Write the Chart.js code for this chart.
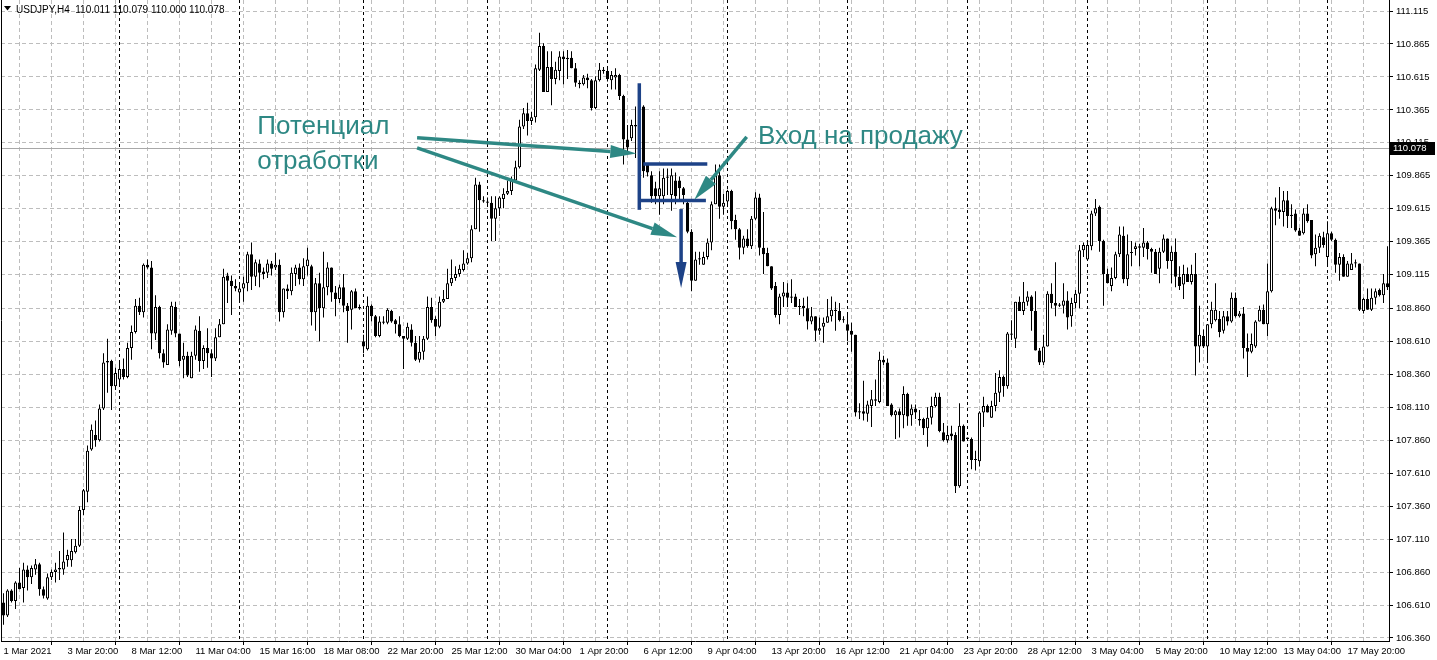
<!DOCTYPE html>
<html>
<head>
<meta charset="utf-8">
<title>USDJPY,H4</title>
<script src="https://cdn.jsdelivr.net/npm/chart.js@4.4.0/dist/chart.umd.min.js"></script>
<style>
  html, body { margin: 0; padding: 0; background: #fff; overflow: hidden; }
  canvas { display: block; }
</style>
</head>
<body>
<canvas id="chart" width="1437" height="660"></canvas>
<script>
// USDJPY H4 candles, 1 Mar 2021 .. 18 May 2021
const opens = [
  106.63,106.53,106.72,106.64,106.78,106.74,106.88,106.82,106.88,106.92,
  106.73,106.66,106.82,106.86,106.88,106.88,106.95,106.95,107.01,107.06,
  107.33,107.47,107.79,107.90,107.86,108.10,108.45,108.46,108.27,108.32,
  108.40,108.34,108.56,108.68,108.88,108.83,109.19,109.17,108.67,108.87,
  108.52,108.43,108.69,108.87,108.67,108.47,108.50,108.33,108.50,108.69,
  108.46,108.56,108.52,108.48,108.64,108.74,109.11,109.07,109.03,108.98,
  109.01,109.05,109.27,109.10,109.20,109.14,109.13,109.20,109.17,109.19,
  108.83,109.01,108.99,109.12,109.17,109.08,109.18,109.18,108.83,109.05,
  108.86,109.02,109.17,108.98,108.93,109.02,108.88,108.85,108.99,108.87,
  108.61,108.55,108.88,108.80,108.65,108.76,108.75,108.84,108.77,108.74,
  108.65,108.63,108.70,108.60,108.47,108.53,108.63,108.87,108.78,108.72,
  108.91,108.93,109.05,109.09,109.12,109.15,109.20,109.24,109.46,109.80,
  109.68,109.67,109.66,109.54,109.62,109.69,109.73,109.75,109.83,109.93,
  110.24,110.34,110.28,110.31,110.67,110.85,110.50,110.69,110.60,110.66,
  110.77,110.75,110.76,110.68,110.57,110.56,110.61,110.59,110.38,110.59,
  110.67,110.66,110.59,110.61,110.63,110.47,110.14,110.15,110.25,110.24,
  110.39,109.95,109.87,109.77,109.71,109.71,109.85,109.72,109.83,109.83,
  109.77,109.66,109.44,109.07,109.24,109.19,109.25,109.36,109.65,109.87,
  109.63,109.67,109.75,109.53,109.46,109.32,109.39,109.33,109.54,109.70,
  109.32,109.28,109.18,109.03,108.81,108.95,108.98,108.95,108.95,108.87,
  108.88,108.86,108.76,108.80,108.69,108.72,108.75,108.80,108.85,108.84,
  108.77,108.74,108.69,108.66,108.08,108.08,108.06,108.12,108.17,108.15,
  108.47,108.45,108.13,108.05,108.08,108.05,108.21,108.05,108.10,108.02,
  108.02,107.95,108.03,108.12,108.19,107.92,107.86,107.91,107.90,107.51,
  107.97,107.88,107.87,107.71,107.70,108.07,108.12,108.03,108.12,108.22,
  108.34,108.27,108.67,108.63,108.91,108.84,108.91,108.95,108.84,108.54,
  108.45,108.57,108.97,108.90,108.89,108.88,108.92,108.80,108.90,108.97,
  109.30,109.23,109.33,109.58,109.63,109.37,109.12,109.03,109.09,109.27,
  109.41,109.08,109.28,109.31,109.33,109.32,109.36,109.31,109.29,109.16,
  109.29,109.39,109.22,109.29,109.10,109.04,109.12,109.06,109.12,108.57,
  108.65,108.57,108.74,108.77,108.78,108.69,108.80,108.76,108.94,108.80,
  108.82,108.56,108.53,108.57,108.76,108.85,108.74,108.99,109.62,109.61,
  109.59,109.68,109.57,109.58,109.45,109.43,109.58,109.53,109.27,109.32,
  109.40,109.25,109.43,109.38,109.19,109.25,109.10,109.15,109.21,109.20,
  108.84,108.93,108.85,108.94,109.00,108.96,109.05
];
const highs = [
  106.70,106.73,106.73,106.79,106.89,106.93,106.91,106.91,106.96,106.93,
  106.75,106.85,106.88,106.93,107.02,107.16,107.03,107.11,107.11,107.36,
  107.49,107.82,107.98,108.01,108.13,108.52,108.63,108.47,108.41,108.45,
  108.48,108.60,108.73,108.93,108.94,109.20,109.23,109.22,108.96,108.88,
  108.55,108.74,108.91,108.91,108.67,108.60,108.53,108.53,108.73,108.80,
  108.58,108.71,108.55,108.71,108.78,109.16,109.13,109.11,109.08,109.04,
  109.10,109.29,109.36,109.23,109.23,109.17,109.23,109.22,109.28,109.23,
  109.01,109.04,109.17,109.19,109.20,109.24,109.32,109.19,109.09,109.13,
  109.29,109.21,109.17,109.03,109.04,109.12,108.90,109.00,109.01,108.89,
  108.66,108.95,108.89,108.81,108.80,108.80,108.86,108.85,108.78,108.80,
  108.65,108.75,108.74,108.65,108.65,108.65,108.95,108.94,108.80,108.95,
  109.00,109.16,109.23,109.18,109.19,109.30,109.28,109.49,109.85,109.82,
  109.71,109.70,109.71,109.71,109.71,109.77,109.83,109.86,109.98,110.29,
  110.38,110.42,110.35,110.71,110.95,110.87,110.81,110.81,110.73,110.81,
  110.81,110.82,110.81,110.72,110.59,110.63,110.64,110.60,110.62,110.72,
  110.69,110.68,110.66,110.68,110.64,110.48,110.25,110.29,110.39,110.40,
  110.40,109.96,109.90,109.82,109.90,109.92,109.92,109.92,109.89,109.86,
  109.78,109.68,109.46,109.29,109.29,109.29,109.39,109.67,109.95,109.95,
  109.73,109.76,109.76,109.57,109.47,109.41,109.46,109.56,109.74,109.73,
  109.59,109.32,109.18,109.06,108.97,109.06,109.05,109.08,108.97,108.93,
  108.94,108.95,108.87,108.80,108.79,108.79,108.93,108.95,108.91,108.90,
  108.80,108.82,108.75,108.66,108.14,108.31,108.16,108.24,108.32,108.53,
  108.50,108.48,108.14,108.09,108.10,108.27,108.22,108.13,108.13,108.09,
  108.03,108.11,108.19,108.22,108.22,107.99,107.97,107.97,107.92,108.14,
  107.98,107.88,107.88,107.78,108.08,108.19,108.13,108.16,108.37,108.39,
  108.35,108.68,108.77,108.91,108.95,109.06,108.99,108.96,108.99,108.56,
  108.66,108.99,109.05,109.21,108.90,109.05,108.99,108.94,109.00,109.34,
  109.36,109.36,109.60,109.69,109.64,109.38,109.16,109.17,109.29,109.48,
  109.48,109.42,109.37,109.36,109.35,109.47,109.37,109.32,109.31,109.32,
  109.42,109.39,109.33,109.39,109.18,109.19,109.17,109.19,109.28,108.88,
  108.70,108.74,108.91,109.05,108.84,108.84,108.84,108.98,108.98,108.84,
  108.87,108.67,108.67,108.77,108.88,108.89,109.20,109.63,109.70,109.78,
  109.75,109.75,109.65,109.61,109.47,109.62,109.65,109.53,109.42,109.43,
  109.44,109.52,109.44,109.39,109.28,109.27,109.22,109.28,109.23,109.20,
  108.94,109.01,109.01,109.01,109.01,109.12,109.33
];
const lows = [
  106.46,106.52,106.63,106.58,106.73,106.63,106.72,106.77,106.84,106.68,
  106.66,106.65,106.80,106.78,106.80,106.84,106.90,106.90,107.00,107.05,
  107.29,107.39,107.78,107.81,107.85,108.09,108.22,108.09,108.24,108.27,
  108.32,108.33,108.47,108.67,108.81,108.79,109.16,108.55,108.62,108.48,
  108.41,108.43,108.66,108.64,108.42,108.33,108.34,108.33,108.47,108.38,
  108.40,108.41,108.34,108.46,108.64,108.74,108.90,108.81,108.99,108.91,
  108.91,108.99,109.00,109.03,109.02,109.08,109.09,109.11,109.15,108.76,
  108.79,108.93,108.96,109.03,109.04,109.03,109.11,108.73,108.69,108.61,
  108.79,108.96,108.91,108.80,108.90,108.83,108.60,108.70,108.86,108.85,
  108.52,108.54,108.76,108.64,108.64,108.74,108.74,108.75,108.67,108.64,
  108.40,108.62,108.57,108.46,108.45,108.47,108.62,108.75,108.65,108.71,
  108.90,108.93,109.03,109.07,109.10,109.14,109.19,109.21,109.46,109.44,
  109.66,109.65,109.37,109.37,109.56,109.62,109.72,109.72,109.82,109.92,
  110.22,110.17,110.25,110.27,110.66,110.50,110.50,110.40,110.56,110.59,
  110.56,110.60,110.68,110.54,110.53,110.55,110.53,110.36,110.37,110.58,
  110.64,110.58,110.52,110.52,110.44,109.95,110.05,110.13,110.00,110.20,
  109.85,109.86,109.66,109.65,109.57,109.65,109.72,109.60,109.65,109.67,
  109.65,109.43,108.99,109.07,109.19,109.19,109.23,109.30,109.65,109.54,
  109.57,109.65,109.46,109.38,109.23,109.27,109.32,109.31,109.53,109.26,
  109.12,109.18,109.00,108.79,108.74,108.87,108.87,108.90,108.87,108.81,
  108.80,108.70,108.74,108.61,108.66,108.60,108.75,108.76,108.69,108.76,
  108.75,108.61,108.53,108.04,108.02,108.01,108.00,107.96,108.12,108.14,
  108.43,108.12,108.04,107.87,107.88,107.95,107.97,107.97,108.02,107.97,
  107.90,107.81,107.98,108.11,107.92,107.85,107.84,107.86,107.46,107.50,
  107.85,107.86,107.64,107.63,107.66,107.96,108.07,108.03,108.08,108.15,
  108.19,108.25,108.62,108.56,108.84,108.81,108.88,108.69,108.54,108.43,
  108.43,108.57,108.86,108.80,108.87,108.82,108.70,108.72,108.86,108.86,
  109.25,109.22,109.30,109.56,109.29,108.88,109.05,108.99,109.08,109.25,
  109.05,109.03,109.18,109.26,109.18,109.25,109.23,109.13,109.12,109.05,
  109.28,109.16,109.05,109.02,109.00,108.93,109.06,109.04,108.35,108.45,
  108.56,108.45,108.71,108.76,108.64,108.67,108.73,108.75,108.79,108.79,
  108.48,108.34,108.52,108.56,108.76,108.74,108.65,108.98,109.49,109.54,
  109.48,109.47,109.47,109.44,109.41,109.42,109.51,109.24,109.18,109.28,
  109.32,109.18,109.37,109.13,109.07,109.10,109.10,109.15,109.17,108.84,
  108.82,108.85,108.84,108.89,108.95,108.90,109.00
];
const closes = [
  106.53,106.72,106.64,106.78,106.73,106.88,106.82,106.89,106.92,106.73,
  106.68,106.82,106.86,106.88,106.89,106.94,106.99,107.02,107.06,107.33,
  107.48,107.78,107.94,107.86,108.10,108.45,108.46,108.27,108.37,108.40,
  108.34,108.56,108.68,108.88,108.83,109.19,109.17,108.67,108.87,108.52,
  108.45,108.70,108.88,108.67,108.46,108.50,108.35,108.50,108.70,108.46,
  108.56,108.52,108.48,108.64,108.74,109.10,109.07,109.03,109.01,109.01,
  109.05,109.27,109.10,109.21,109.13,109.12,109.20,109.16,109.19,108.83,
  109.01,108.99,109.13,109.17,109.08,109.18,109.23,108.83,109.05,108.86,
  109.02,109.17,108.98,108.93,109.02,108.88,108.84,108.99,108.86,108.86,
  108.57,108.88,108.80,108.65,108.76,108.75,108.85,108.76,108.74,108.65,
  108.63,108.72,108.60,108.47,108.53,108.63,108.87,108.77,108.72,108.91,
  108.93,109.05,109.09,109.12,109.16,109.20,109.24,109.46,109.80,109.68,
  109.67,109.66,109.54,109.62,109.70,109.73,109.75,109.83,109.93,110.24,
  110.34,110.28,110.31,110.68,110.85,110.50,110.69,110.60,110.67,110.77,
  110.75,110.76,110.68,110.57,110.56,110.61,110.59,110.38,110.59,110.67,
  110.66,110.60,110.63,110.63,110.47,110.14,110.08,110.25,110.24,110.39,
  109.90,109.89,109.71,109.71,109.77,109.85,109.86,109.87,109.71,109.77,
  109.72,109.44,109.07,109.23,109.23,109.25,109.36,109.65,109.87,109.63,
  109.66,109.75,109.52,109.46,109.32,109.39,109.33,109.54,109.70,109.32,
  109.27,109.18,109.01,108.81,108.95,108.98,108.94,108.94,108.87,108.87,
  108.86,108.76,108.80,108.69,108.71,108.75,108.80,108.85,108.84,108.77,
  108.77,108.69,108.66,108.07,108.07,108.06,108.13,108.17,108.16,108.47,
  108.45,108.12,108.05,108.08,108.05,108.21,108.04,108.10,108.07,108.01,
  107.95,108.03,108.12,108.19,107.93,107.86,107.90,107.89,107.51,107.97,
  107.85,107.87,107.71,107.71,108.07,108.12,108.07,108.12,108.22,108.34,
  108.27,108.67,108.66,108.91,108.84,108.91,108.95,108.84,108.54,108.45,
  108.57,108.97,108.90,108.88,108.88,108.92,108.79,108.90,108.97,109.30,
  109.34,109.34,109.58,109.62,109.37,109.12,109.05,109.09,109.27,109.42,
  109.08,109.27,109.28,109.33,109.32,109.36,109.31,109.29,109.12,109.29,
  109.39,109.22,109.29,109.10,109.03,109.12,109.06,109.12,108.57,108.66,
  108.57,108.74,108.85,108.85,108.68,108.80,108.76,108.94,108.80,108.82,
  108.56,108.53,108.59,108.76,108.85,108.74,108.99,109.62,109.60,109.59,
  109.68,109.56,109.56,109.45,109.41,109.58,109.52,109.26,109.32,109.41,
  109.34,109.43,109.38,109.19,109.25,109.10,109.20,109.20,109.20,108.85,
  108.93,108.85,108.94,108.99,108.96,109.05,109.02
];

// axis labels as printed by the terminal
const dateLabels = [
  "1 Mar 2021", "3 Mar 20:00", "8 Mar 12:00", "11 Mar 04:00", "15 Mar 16:00",
  "18 Mar 08:00", "22 Mar 20:00", "25 Mar 12:00", "30 Mar 04:00", "1 Apr 20:00",
  "6 Apr 12:00", "9 Apr 04:00", "13 Apr 20:00", "16 Apr 12:00", "21 Apr 04:00",
  "23 Apr 20:00", "28 Apr 12:00", "3 May 04:00", "5 May 20:00", "10 May 12:00",
  "13 May 04:00", "17 May 20:00"
];
const priceLabels = [
  "111.115", "110.865", "110.615", "110.365", "110.115", "109.865", "109.615",
  "109.365", "109.115", "108.860", "108.610", "108.360", "108.110", "107.860",
  "107.610", "107.360", "107.110", "106.860", "106.610", "106.360"
];
const weekStarts = [29, 59, 90, 121, 151, 181, 211, 241, 271, 301, 331]; // bar index of each period separator
const headerText = "USDJPY,H4  110.011 110.079 110.000 110.078";
const lastPrice = 110.078;

// hand drawn marks, anchored in (bar index, price)
const noteTexts = [
  { text: "Потенциал", at: [63.45, 110.18] },
  { text: "отработки", at: [63.45, 109.918] },
  { text: "Вход на продажу", at: [188.6, 110.105] }
];
const tealArrows = [
  { from: [103.4, 110.153], to: [158.2, 110.035] },
  { from: [103.4, 110.077], to: [168.4, 109.40] },
  { from: [185.8, 110.16], to: [172.7, 109.683] }
];
const blueLines = [
  { from: [158.95, 110.567], to: [158.95, 109.607] },
  { from: [159.95, 109.954], to: [175.95, 109.954] },
  { from: [158.7, 109.678], to: [175.6, 109.678] }
];
const blueArrow = { from: [169.4, 109.613], to: [169.4, 109.014] };

const N = opens.length;
const FONT = '"Liberation Sans", Arial, sans-serif';
const TEAL = '#2e8884';
const NAVY = '#1d4287';

const wickData = opens.map((_, i) => ({ x: i, y: [lows[i], highs[i]] }));
const bodyData = opens.map((o, i) => ({ x: i, y: [Math.min(o, closes[i]), Math.max(o, closes[i])] }));
const bodyFill = opens.map((o, i) => closes[i] >= o ? '#ffffff' : '#000000');

function arrow(ctx, x1, y1, x2, y2, color, width, headLen, headHalf) {
  const a = Math.atan2(y2 - y1, x2 - x1);
  const bx = x2 - headLen * Math.cos(a), by = y2 - headLen * Math.sin(a);
  ctx.strokeStyle = color; ctx.fillStyle = color; ctx.lineWidth = width; ctx.lineCap = 'butt';
  ctx.beginPath(); ctx.moveTo(x1, y1); ctx.lineTo(bx, by); ctx.stroke();
  ctx.beginPath();
  ctx.moveTo(x2, y2);
  ctx.lineTo(bx + headHalf * Math.sin(a), by - headHalf * Math.cos(a));
  ctx.lineTo(bx - headHalf * Math.sin(a), by + headHalf * Math.cos(a));
  ctx.closePath(); ctx.fill();
}

const mt4 = {
  id: 'mt4',
  beforeDatasetsDraw(chart) {
    const { ctx, chartArea: a, scales: { x, y } } = chart;
    ctx.save();
    // period separators
    ctx.strokeStyle = '#000'; ctx.lineWidth = 1; ctx.setLineDash([3, 3]);
    weekStarts.forEach(i => {
      const px = Math.floor(x.getPixelForValue(i)) + 0.5;
      ctx.beginPath(); ctx.moveTo(px, a.top); ctx.lineTo(px, a.bottom); ctx.stroke();
    });
    ctx.setLineDash([]);
    // bid line
    const py = Math.round(y.getPixelForValue(lastPrice)) + 0.5;
    ctx.strokeStyle = '#a8a8a8';
    ctx.beginPath(); ctx.moveTo(a.left, py); ctx.lineTo(a.right, py); ctx.stroke();
    // left frame
    ctx.strokeStyle = '#000';
    ctx.beginPath(); ctx.moveTo(a.left + 0.5, a.top); ctx.lineTo(a.left + 0.5, a.bottom); ctx.stroke();
    ctx.restore();
  },
  afterDatasetsDraw(chart) {
    const { ctx, scales: { x, y } } = chart;
    const pt = p => [x.getPixelForValue(p[0]), y.getPixelForValue(p[1])];
    ctx.save();
    // blue bracket and arrow
    ctx.strokeStyle = NAVY; ctx.lineWidth = 3.5; ctx.lineCap = 'butt';
    blueLines.forEach(l => {
      const [x1, y1] = pt(l.from), [x2, y2] = pt(l.to);
      ctx.beginPath(); ctx.moveTo(x1, y1); ctx.lineTo(x2, y2); ctx.stroke();
    });
    {
      const [x1, y1] = pt(blueArrow.from), [x2, y2] = pt(blueArrow.to);
      arrow(ctx, x1, y1, x2, y2, NAVY, 3.5, 26, 5.5);
    }
    // teal arrows
    tealArrows.forEach(ar => {
      const [x1, y1] = pt(ar.from), [x2, y2] = pt(ar.to);
      arrow(ctx, x1, y1, x2, y2, TEAL, 3.5, 26, 6.5);
    });
    // notes
    ctx.fillStyle = TEAL;
    ctx.font = '26px ' + FONT;
    ctx.textAlign = 'left'; ctx.textBaseline = 'alphabetic';
    noteTexts.forEach(n => {
      const [tx, ty] = pt(n.at);
      ctx.fillText(n.text, tx, ty);
    });
    ctx.restore();
  },
  afterDraw(chart) {
    const { ctx, chartArea: a, scales: { y } } = chart;
    ctx.save();
    // header
    ctx.fillStyle = '#000';
    ctx.beginPath(); ctx.moveTo(4, 6); ctx.lineTo(11, 6); ctx.lineTo(7.5, 10.5); ctx.closePath(); ctx.fill();
    ctx.font = '10px ' + FONT;
    ctx.textBaseline = 'alphabetic';
    ctx.fillText(headerText, 16, 13);
    // current price tag
    const py = Math.round(y.getPixelForValue(lastPrice));
    ctx.fillRect(a.right + 1, py - 6, 45, 13);
    ctx.fillStyle = '#fff';
    ctx.font = '9.5px ' + FONT;
    ctx.textBaseline = 'middle';
    ctx.fillText(lastPrice.toFixed(3), a.right + 4, py + 0.5);
    ctx.restore();
  }
};

Chart.defaults.font.family = FONT;
Chart.defaults.font.size = 9.5;
Chart.defaults.color = '#000';

new Chart(document.getElementById('chart'), {
  type: 'bar',
  data: {
    datasets: [
      {
        label: 'body', data: bodyData, backgroundColor: bodyFill, borderColor: '#000',
        borderWidth: 1, borderSkipped: false, barThickness: 3, minBarLength: 1,
        inflateAmount: 0, grouped: false, order: 0
      },
      {
        label: 'wick', data: wickData, backgroundColor: '#000', borderWidth: 0,
        barThickness: 1, minBarLength: 1, inflateAmount: 0, grouped: false, order: 1
      }
    ]
  },
  options: {
    responsive: false,
    animation: false,
    devicePixelRatio: 1,
    layout: { padding: { left: 1, top: 0, right: 0, bottom: 0 } },
    plugins: { legend: { display: false }, tooltip: { enabled: false } },
    scales: {
      x: {
        type: 'linear',
        min: -0.625,
        max: N - 0.625,
        offset: false,
        afterBuildTicks: s => {
          const t = [];
          for (let i = 0; i < N; i += 8) t.push({ value: i });
          s.ticks = t;
        },
        afterFit: s => { s.height = 19; s.paddingLeft = 0; s.paddingRight = 0; },
        ticks: {
          autoSkip: false, maxRotation: 0, minRotation: 0, align: 'start', padding: 1,
          callback: v => (v % 16 === 0 ? (dateLabels[v / 16] || '') : '')
        },
        grid: {
          color: '#bdbdbd', lineWidth: 1, tickLength: 4,
          tickColor: c => (c.tick && c.tick.value % 16 === 0) ? '#000' : 'rgba(0,0,0,0)'
        },
        border: { display: true, color: '#000', width: 1, dash: [4, 3] }
      },
      y: {
        position: 'right',
        min: 106.36 - 3 / 131.86,
        max: 111.115 + 11 / 131.86,
        afterBuildTicks: s => { s.ticks = priceLabels.map(t => ({ value: parseFloat(t) })); },
        afterFit: s => { s.width = 48; s.paddingTop = 0; s.paddingBottom = 0; },
        ticks: { autoSkip: false, padding: 3, callback: (v, i) => priceLabels[i] },
        grid: { color: '#bdbdbd', lineWidth: 1, tickLength: 4, tickColor: '#000' },
        border: { display: true, color: '#000', width: 1, dash: [4, 3] }
      }
    }
  },
  plugins: [mt4]
});
</script>
</body>
</html>
